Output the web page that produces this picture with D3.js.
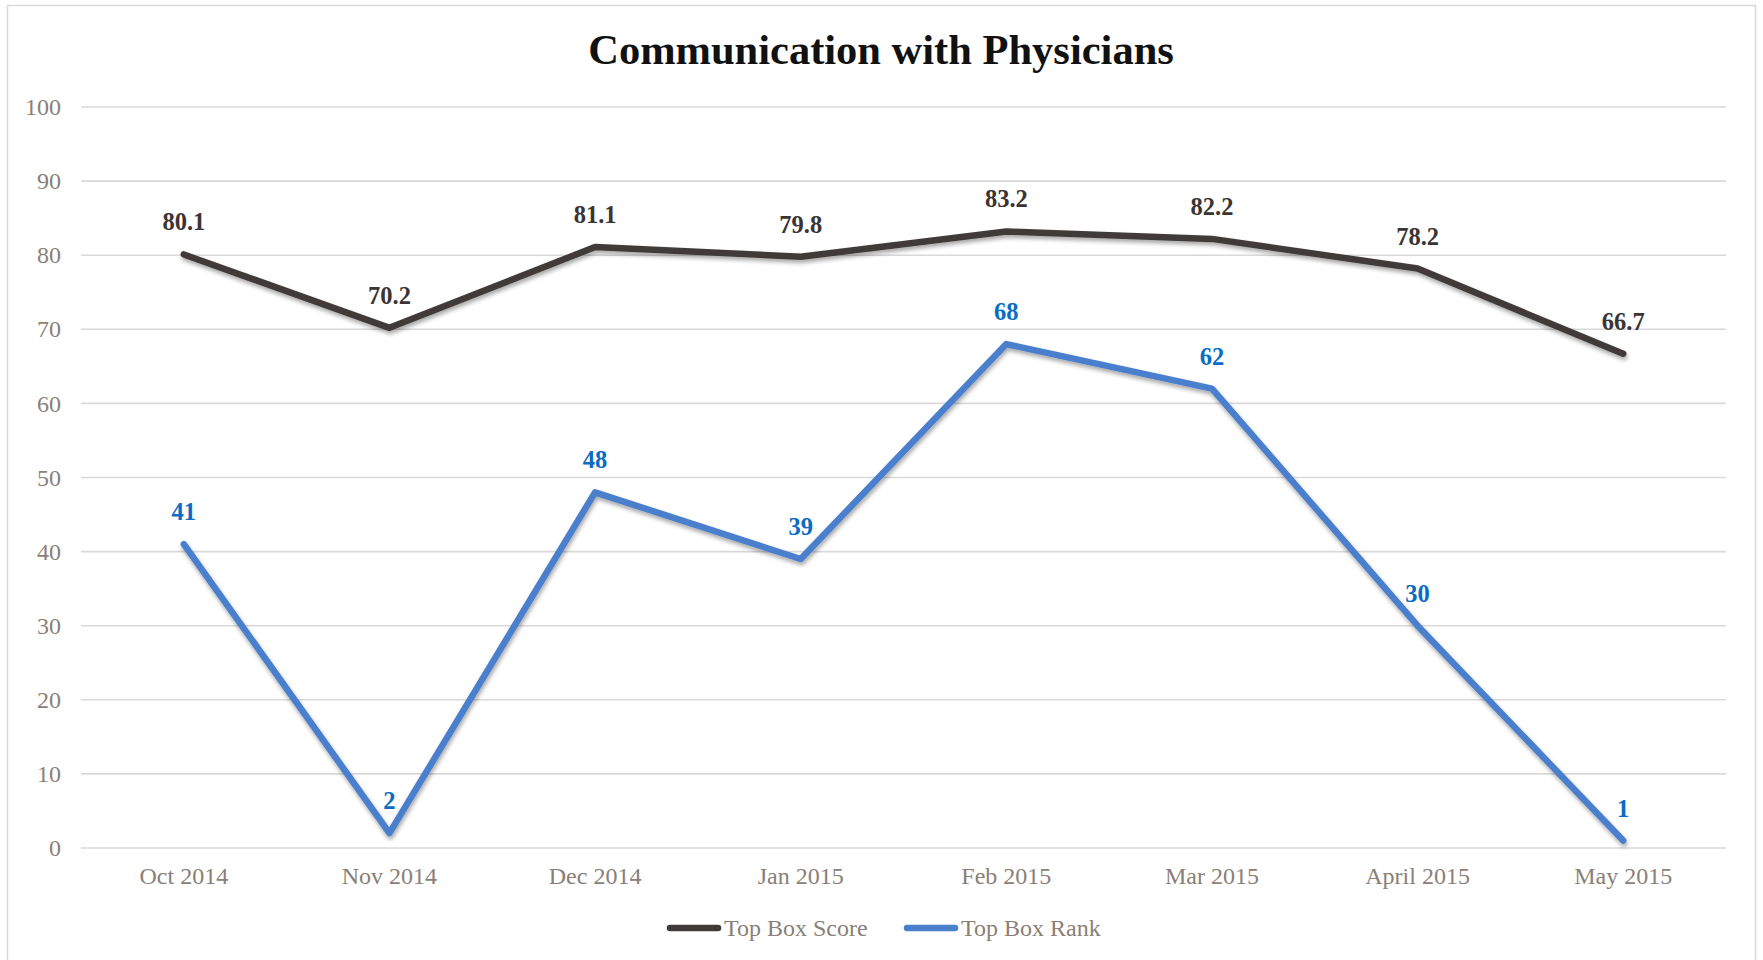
<!DOCTYPE html>
<html>
<head>
<meta charset="utf-8">
<script src="https://cdn.jsdelivr.net/npm/d3@7"></script>
<style>
  html, body { margin: 0; padding: 0; background: #ffffff; }
  svg { display: block; }
</style>
</head>
<body>
<svg id="chart" width="1763" height="960"></svg>
<script>
const categories = ["Oct 2014", "Nov 2014", "Dec 2014", "Jan 2015", "Feb 2015", "Mar 2015", "April 2015", "May 2015"];
const topBoxScore = [80.1, 70.2, 81.1, 79.8, 83.2, 82.2, 78.2, 66.7];
const topBoxRank = [41, 2, 48, 39, 68, 62, 30, 1];
const yTicks = [0, 10, 20, 30, 40, 50, 60, 70, 80, 90, 100];
const seriesNames = ["Top Box Score", "Top Box Rank"];

const W = 1763, H = 960;
const plot = { left: 81, right: 1726, top: 107, bottom: 848 };
const FONT = "'Liberation Serif', 'Times New Roman', serif";
const scoreColor = "#403b38", rankColor = "#4a7fcc";
const scoreLabelColor = "#3a3533", rankLabelColor = "#0a6cc2";
const axisTextColor = "#8a7f76";

const svg = d3.select("#chart");

const defs = svg.append("defs");
const f = defs.append("filter").attr("id", "shadow").attr("x", "-10%").attr("y", "-10%").attr("width", "120%").attr("height", "130%");
f.append("feDropShadow").attr("dx", 1).attr("dy", 3).attr("stdDeviation", 2.2).attr("flood-color", "#000").attr("flood-opacity", 0.35);

// Outer border
svg.append("rect")
  .attr("x", 7.5).attr("y", 5.5).attr("width", 1748).attr("height", 960)
  .attr("fill", "#fff").attr("stroke", "#d9d9d9").attr("stroke-width", 1.5);

const x = d3.scaleBand().domain(categories).range([plot.left, plot.right]);
const y = d3.scaleLinear().domain([0, 100]).range([plot.bottom, plot.top]);
const cx = d => x(d) + x.bandwidth() / 2;

// Gridlines
svg.append("g").selectAll("line").data(yTicks).join("line")
  .attr("x1", plot.left).attr("x2", plot.right)
  .attr("y1", d => y(d)).attr("y2", d => y(d))
  .attr("stroke", "#d9d9d9").attr("stroke-width", 1.6);

// Y axis labels
const yAxis = svg.append("g").attr("transform", `translate(${plot.left - 20},0)`)
  .call(d3.axisLeft(y).tickValues(yTicks).tickSize(0).tickPadding(0));
yAxis.select(".domain").remove();
yAxis.selectAll("text").attr("font-family", FONT).attr("font-size", 24).attr("fill", axisTextColor);

// X axis labels
const xAxis = svg.append("g").attr("transform", `translate(0,${plot.bottom + 19})`)
  .call(d3.axisBottom(x).tickSize(0).tickPadding(0));
xAxis.select(".domain").remove();
xAxis.selectAll("text").attr("font-family", FONT).attr("font-size", 24).attr("fill", axisTextColor).attr("dy", "0.71em");

// Title
svg.append("text").attr("x", 881).attr("y", 64).attr("text-anchor", "middle")
  .attr("font-family", FONT).attr("font-weight", "bold").attr("font-size", 42.5).attr("fill", "#111")
  .text("Communication with Physicians");

const line = d3.line().x((d, i) => cx(categories[i])).y(d => y(d));

const series = [
  { name: seriesNames[0], values: topBoxScore, color: scoreColor, labelColor: scoreLabelColor, fmt: d3.format(".1f") },
  { name: seriesNames[1], values: topBoxRank, color: rankColor, labelColor: rankLabelColor, fmt: d3.format("d") }
];

series.forEach(s => {
  svg.append("path").datum(s.values)
    .attr("d", line).attr("fill", "none")
    .attr("stroke", s.color).attr("stroke-width", 6.5)
    .attr("stroke-linejoin", "round").attr("stroke-linecap", "round")
    .attr("filter", "url(#shadow)");
});

series.forEach(s => {
  svg.append("g").selectAll("text").data(s.values).join("text")
    .attr("x", (d, i) => cx(categories[i]))
    .attr("y", d => y(d) - 24)
    .attr("text-anchor", "middle")
    .attr("font-family", FONT).attr("font-weight", "bold").attr("font-size", 24.5)
    .attr("fill", s.labelColor)
    .text(d => s.fmt(d));
});

// Legend
const legend = svg.append("g");
const legendItems = [
  { name: seriesNames[0], color: scoreColor, x: 670 },
  { name: seriesNames[1], color: rankColor, x: 907 }
];
legendItems.forEach(it => {
  legend.append("line").attr("x1", it.x).attr("x2", it.x + 48).attr("y1", 928).attr("y2", 928)
    .attr("stroke", it.color).attr("stroke-width", 6.5).attr("stroke-linecap", "round");
  legend.append("text").attr("x", it.x + 54).attr("y", 928).attr("dy", "0.35em")
    .attr("font-family", FONT).attr("font-size", 24).attr("fill", axisTextColor)
    .text(it.name);
});
</script>
</body>
</html>
